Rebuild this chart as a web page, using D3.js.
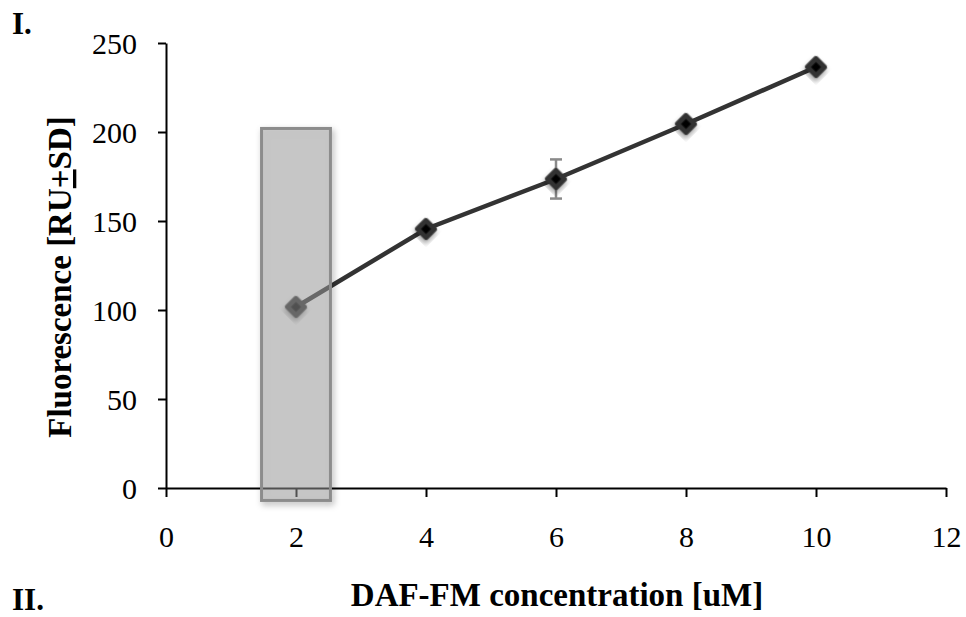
<!DOCTYPE html>
<head>
  <meta charset="utf-8">
  <script src="https://d3js.org/d3.v7.min.js"></script>
  <style>
    body { margin: 0; background: #fff; }
    .axis path, .axis line { fill: none; stroke: black; stroke-width: 2px; }
    .axis text { font-family: "Liberation Serif", "Times New Roman", serif; font-size: 30px; fill: #000; }
    .title { font-family: "Liberation Serif", "Times New Roman", serif; font-weight: bold; font-size: 33px; }
    .panel { font-family: "Liberation Serif", "Times New Roman", serif; font-weight: bold; font-size: 31px; }
  </style>
</head>
<body>
<script>
  // data
  var concentrations = [2, 4, 6, 8, 10];
  var fluorescence = [101.7, 145.5, 173.6, 204.5, 236.5];
  var sd = [2, 2.5, 11, 2.5, 2];
  var xTicks = [0, 2, 4, 6, 8, 10, 12];
  var yTicks = [0, 50, 100, 150, 200, 250];
  // highlighted region around the 2 uM point (data units)
  var highlightX = [1.47, 2.53];
  var highlightY = [-7, 202];

  (function() {
  var w = 966, h = 617;
  var mLeft = 166, mRight = 946, mTop = 43, mBottom = 488;

  var svg = d3.select("body").append("svg")
      .attr("width", w)
      .attr("height", h);

  var defs = svg.append("defs");
  var f = defs.append("filter").attr("id", "shadow")
      .attr("x", "-50%").attr("y", "-50%").attr("width", "200%").attr("height", "200%");
  f.append("feDropShadow").attr("dx", 2).attr("dy", 3).attr("stdDeviation", 2.5)
      .attr("flood-color", "#000").attr("flood-opacity", 0.35);

  // outer-only shadow for the translucent box
  var f2 = defs.append("filter").attr("id", "outshadow")
      .attr("x", "-20%").attr("y", "-5%").attr("width", "140%").attr("height", "110%");
  f2.append("feGaussianBlur").attr("in", "SourceAlpha").attr("stdDeviation", 3).attr("result", "blur");
  f2.append("feOffset").attr("in", "blur").attr("dx", 2).attr("dy", 3).attr("result", "off");
  f2.append("feFlood").attr("flood-color", "#000").attr("flood-opacity", 0.3).attr("result", "col");
  f2.append("feComposite").attr("in", "col").attr("in2", "off").attr("operator", "in").attr("result", "sh");
  f2.append("feComposite").attr("in", "sh").attr("in2", "SourceAlpha").attr("operator", "out").attr("result", "shOut");
  var mg = f2.append("feMerge");
  mg.append("feMergeNode").attr("in", "shOut");
  mg.append("feMergeNode").attr("in", "SourceGraphic");

  var xScale = d3.scaleLinear().domain([0, 12]).range([mLeft, mRight]);
  var yScale = d3.scaleLinear().domain([0, 250]).range([mBottom, mTop]);

  var xAxis = d3.axisBottom(xScale).tickValues(xTicks).tickSize(9).tickPadding(29).tickSizeOuter(0);
  var yAxis = d3.axisLeft(yScale).tickValues(yTicks).tickSize(8).tickPadding(21).tickSizeOuter(0);

  svg.append("g").attr("class", "axis")
      .attr("transform", "translate(0," + mBottom + ")")
      .call(xAxis);
  svg.append("g").attr("class", "axis")
      .attr("transform", "translate(" + mLeft + ",0)")
      .call(yAxis)
      .selectAll("text").attr("dy", "0.34em");

  var data = concentrations.map(function(c, i) { return {x: c, y: fluorescence[i], sd: sd[i]}; });

  // error bars
  var eb = svg.append("g").attr("stroke", "#8a8a8a").attr("stroke-width", 2.5);
  data.forEach(function(d) {
    var cx = xScale(d.x);
    eb.append("line").attr("x1", cx).attr("x2", cx)
      .attr("y1", yScale(d.y - d.sd)).attr("y2", yScale(d.y + d.sd));
    [d.y - d.sd, d.y + d.sd].forEach(function(v) {
      eb.append("line").attr("x1", cx - 6).attr("x2", cx + 6)
        .attr("y1", yScale(v)).attr("y2", yScale(v));
    });
  });

  var line = d3.line().x(function(d) { return xScale(d.x); }).y(function(d) { return yScale(d.y); });
  svg.append("path").datum(data)
      .attr("d", line)
      .attr("fill", "none")
      .attr("stroke", "#333")
      .attr("stroke-width", 4.5);

  var diamond = d3.symbol().type(d3.symbolSquare).size(150);
  svg.append("g").selectAll("path.m").data(data).enter().append("path")
      .attr("d", diamond)
      .attr("transform", function(d) { return "translate(" + xScale(d.x) + "," + yScale(d.y) + ") rotate(45)"; })
      .attr("fill", "#000")
      .attr("stroke", "#333")
      .attr("stroke-width", 5)
      .attr("stroke-linejoin", "round")
      .attr("filter", "url(#shadow)");

  // translucent highlight box
  svg.append("rect")
      .attr("x", xScale(highlightX[0]))
      .attr("y", yScale(highlightY[1]))
      .attr("width", xScale(highlightX[1]) - xScale(highlightX[0]))
      .attr("height", yScale(highlightY[0]) - yScale(highlightY[1]))
      .attr("fill", "#999")
      .attr("fill-opacity", 0.5)
      .attr("stroke", "#8c8c8c")
      .attr("stroke-width", 3)
      .attr("filter", "url(#outshadow)");

  // titles
  svg.append("text").attr("class", "title")
      .attr("x", 557).attr("y", 606)
      .attr("text-anchor", "middle")
      .text("DAF-FM concentration [uM]");

  var yt = svg.append("text").attr("class", "title")
      .attr("transform", "translate(71,277) rotate(-90)")
      .attr("text-anchor", "middle");
  yt.append("tspan").text("Fluorescence [RU");
  yt.append("tspan").style("text-decoration", "underline").text("+");
  yt.append("tspan").text("SD]");

  svg.append("text").attr("class", "panel").attr("x", 12).attr("y", 34).text("I.");
  svg.append("text").attr("class", "panel").attr("x", 12).attr("y", 610).text("II.");
  })();
</script>
</body>
